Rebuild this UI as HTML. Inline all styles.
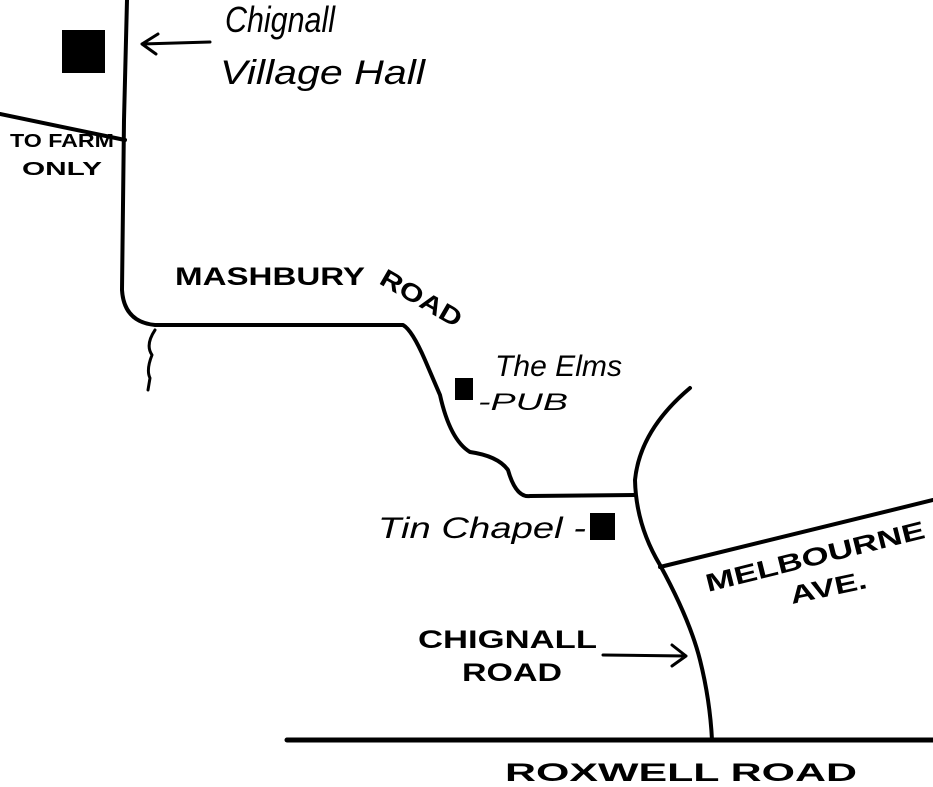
<!DOCTYPE html>
<html><head><meta charset="utf-8"><style>
html,body{margin:0;padding:0;background:#fff;}
svg{display:block}
text{font-family:"Liberation Sans",sans-serif;fill:#000;}
.cap{font-size:25px;font-weight:bold;}
.it{font-style:italic;font-size:32px;}
</style></head><body>
<svg width="933" height="787" viewBox="0 0 933 787" xmlns="http://www.w3.org/2000/svg">
<g fill="none" stroke="#000" stroke-width="4" stroke-linecap="round" stroke-linejoin="round">
<path d="M127 0 L124 120 L122 290 Q124 322 155 325 L403 325 Q412 330 425 360 L440 395 Q450 440 470 452 Q498 456 508 470 Q516 498 530 496 L635 495"/>
<path d="M155 330 Q145 345 152 355 Q146 370 150 378 L148 390" stroke-width="3"/>
<path d="M0 114 L125 140"/>
<path d="M690 388 Q640 430 635 480 Q636 525 660 565 Q690 620 700 660 Q710 700 712 740"/>
<path d="M660 567 L933 500"/>
<path d="M287 740 L933 740" stroke-width="5"/>
<path d="M210 42 L142 44 M158 34 L142 44 L156 54" stroke-width="3"/>
<path d="M603 655 L686 656 M672 645 L686 656 L672 666" stroke-width="3"/>
</g>
<rect x="62" y="30" width="43" height="43" fill="#000"/>
<rect x="455" y="378" width="18" height="22" fill="#000"/>
<rect x="590" y="513" width="25" height="27" fill="#000"/>
<text class="it" x="225" y="32" style="font-size:36px" textLength="110" lengthAdjust="spacingAndGlyphs">Chignall</text>
<text class="it" x="220" y="84" style="font-size:34px" textLength="205" lengthAdjust="spacingAndGlyphs">Village Hall</text>
<text x="10" y="147" style="font-size:18px;font-weight:bold" textLength="104" lengthAdjust="spacingAndGlyphs">TO FARM</text>
<text x="22" y="175" style="font-size:18px;font-weight:bold" textLength="80" lengthAdjust="spacingAndGlyphs">ONLY</text>
<text class="cap" x="175" y="285" textLength="190" lengthAdjust="spacingAndGlyphs">MASHBURY</text>
<text class="cap" x="378" y="283" transform="rotate(30 378 283)" textLength="90" lengthAdjust="spacingAndGlyphs">ROAD</text>
<text class="it" x="495" y="376" style="font-size:30px" textLength="127" lengthAdjust="spacingAndGlyphs">The Elms</text>
<text class="it" x="478" y="410" style="font-size:24px" textLength="90" lengthAdjust="spacingAndGlyphs">-PUB</text>
<text class="it" x="378" y="538" style="font-size:30px" textLength="208" lengthAdjust="spacingAndGlyphs">Tin Chapel -</text>
<text class="cap" x="708" y="592" transform="rotate(-14 708 592)" textLength="225" lengthAdjust="spacingAndGlyphs">MELBOURNE</text>
<text class="cap" x="792" y="604" transform="rotate(-12 792 604)" textLength="78" lengthAdjust="spacingAndGlyphs">AVE.</text>
<text class="cap" x="418" y="648" textLength="179" lengthAdjust="spacingAndGlyphs">CHIGNALL</text>
<text class="cap" x="462" y="681" textLength="100" lengthAdjust="spacingAndGlyphs">ROAD</text>
<text class="cap" x="505" y="781" textLength="352" lengthAdjust="spacingAndGlyphs">ROXWELL ROAD</text>
</svg>
</body></html>
